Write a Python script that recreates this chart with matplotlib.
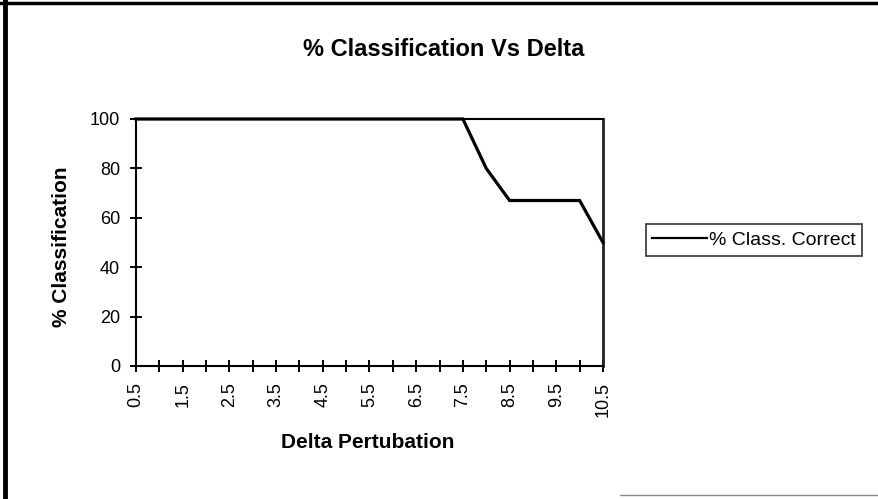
import matplotlib
matplotlib.use("Agg")
import matplotlib.pyplot as plt
from matplotlib.lines import Line2D

plt.rcParams['font.family'] = ['Liberation Sans', 'DejaVu Sans']

delta = [0.5, 1.0, 1.5, 2.0, 2.5, 3.0, 3.5, 4.0, 4.5, 5.0, 5.5, 6.0, 6.5,
         7.0, 7.5, 8.0, 8.5, 9.0, 9.5, 10.0, 10.5]
pct_correct = [100, 100, 100, 100, 100, 100, 100, 100, 100, 100, 100, 100,
               100, 100, 100, 80, 67, 67, 67, 67, 50]
x_labels = ["0.5", "", "1.5", "", "2.5", "", "3.5", "", "4.5", "", "5.5", "",
            "6.5", "", "7.5", "", "8.5", "", "9.5", "", "10.5"]
y_ticks = [0, 20, 40, 60, 80, 100]

fig = plt.figure(figsize=(8.79, 4.99), dpi=100)
ax = fig.add_axes([136/879, 1-366/499, (603-136)/879, (366-119)/499])

line, = ax.plot(delta, pct_correct, color='black', lw=2.3,
                solid_joinstyle='miter', clip_on=False, zorder=5,
                label='% Class. Correct')

ax.set_xlim(delta[0], delta[-1])
ax.set_ylim(0, 100)
ax.set_xticks(delta)
ax.set_xticklabels(x_labels, rotation=90, fontsize=13)
ax.set_yticks(y_ticks)
ax.set_yticklabels([str(v) for v in y_ticks], fontsize=13)
ax.tick_params(axis='both', direction='inout', length=9, width=1.4,
               color='black', pad=7)

for side in ['left', 'bottom', 'top']:
    ax.spines[side].set_color('black')
    ax.spines[side].set_linewidth(1.5)
ax.spines['right'].set_color('#222222')
ax.spines['right'].set_linewidth(2)

fig.text(444/879, 1-49/499, '% Classification Vs Delta', ha='center',
         va='center', fontsize=17, fontweight='bold')
fig.text(368/879, 1-442/499, 'Delta Pertubation', ha='center', va='center',
         fontsize=15, fontweight='bold')
fig.text(62/879, 1-247/499, '% Classification', ha='center', va='center',
         rotation=90, fontsize=15, fontweight='bold')

leg = fig.legend(handles=[line], loc='center',
                 bbox_to_anchor=(754/879, 1-240/499), fontsize=14,
                 frameon=True, fancybox=False, edgecolor='black',
                 handlelength=2.8, handletextpad=0.1, borderpad=0.35,
                 borderaxespad=0)
leg.get_frame().set_linewidth(1.2)
leg.legend_handles[0].set_linewidth(1.6)

# figure border (scanned chart frame)
fig.add_artist(Line2D([5/879, 5/879], [0, 1], transform=fig.transFigure,
                      color='black', lw=3.5))
fig.add_artist(Line2D([0, 1], [1-3/499, 1-3/499], transform=fig.transFigure,
                      color='black', lw=2.5))
fig.add_artist(Line2D([620/879, 1], [1-495/499, 1-495/499],
                      transform=fig.transFigure, color='#888888', lw=1))

fig.savefig('out.png', dpi=100)
